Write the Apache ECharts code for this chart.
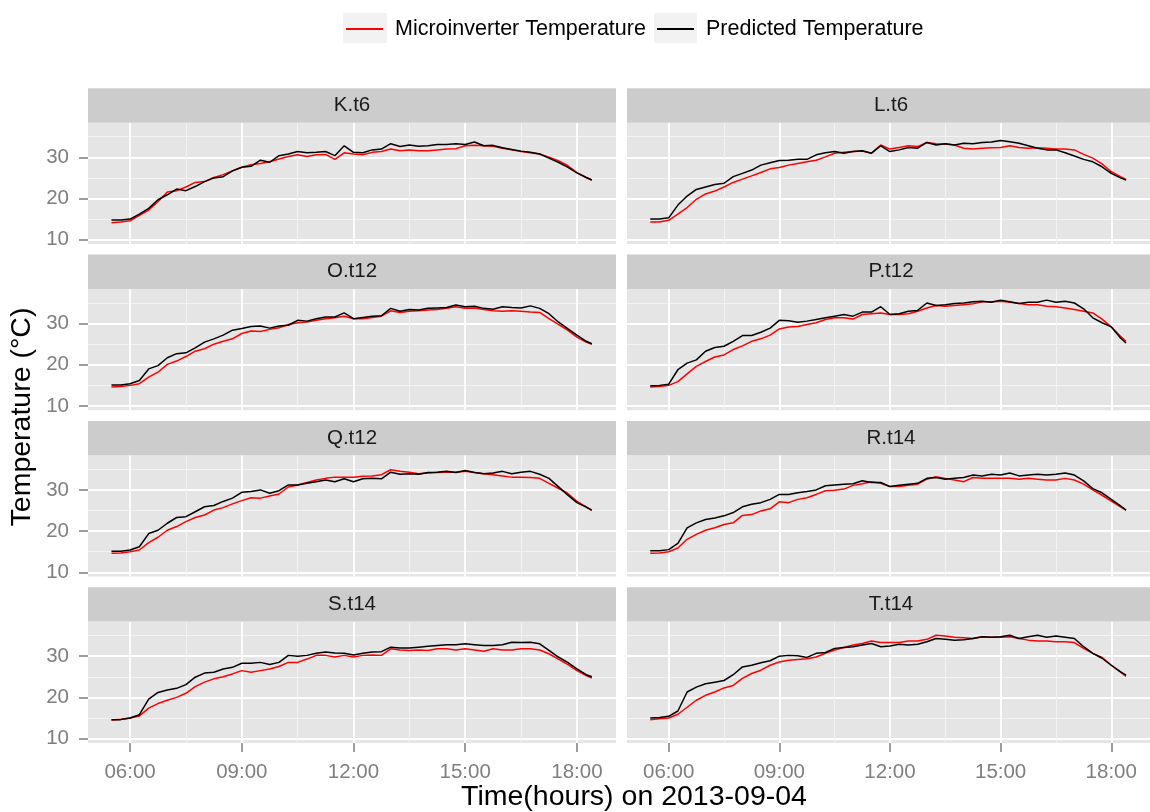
<!DOCTYPE html>
<html><head><meta charset="utf-8">
<script src="https://cdn.jsdelivr.net/npm/echarts@6/dist/echarts.min.js"></script>
<style>html,body{margin:0;padding:0;background:#fff}#chart{width:1150px;height:812px}</style>
</head><body><div id="chart"></div>
<script>
const times = ["05:30","05:45","06:00","06:15","06:30","06:45","07:00","07:15","07:30","07:45","08:00","08:15","08:30","08:45","09:00","09:15","09:30","09:45","10:00","10:15","10:30","10:45","11:00","11:15","11:30","11:45","12:00","12:15","12:30","12:45","13:00","13:15","13:30","13:45","14:00","14:15","14:30","14:45","15:00","15:15","15:30","15:45","16:00","16:15","16:30","16:45","17:00","17:15","17:30","17:45","18:00","18:15","18:24"];
const panelNames = ["K.t6","L.t6","O.t12","P.t12","Q.t12","R.t14","S.t14","T.t14"];
const xTickLabels = ["06:00","09:00","12:00","15:00","18:00"];
const yTickValues = [10,20,30];
const seriesNames = ["Microinverter Temperature","Predicted Temperature"];

const micro_K = [14.1,14.3,14.6,15.9,17.2,19.2,21.6,21.9,22.8,23.9,24.1,25.1,25.8,26.7,27.6,28.2,28.5,28.9,29.6,30.2,30.6,30.2,30.6,30.7,29.5,31.1,30.8,30.6,31.2,31.4,32.0,31.6,31.8,31.6,31.6,31.8,32.0,32.1,32.8,32.9,32.8,32.7,32.2,31.8,31.4,31.1,30.8,30.0,29.2,28.0,26.3,25.1,24.5];
const pred_K  = [14.8,14.8,15.0,16.2,17.6,19.7,20.9,22.3,21.9,22.9,24.1,25.0,25.3,26.7,27.6,27.8,29.3,28.8,30.4,30.8,31.4,31.1,31.2,31.4,30.4,32.8,31.2,31.1,31.8,32.0,33.3,32.6,33.0,32.7,32.8,33.1,33.1,33.3,33.1,33.7,32.8,32.9,32.3,31.9,31.5,31.2,30.8,29.8,28.8,27.6,26.2,25.1,24.5];
const micro_L = [14.3,14.3,14.7,16.2,17.8,19.8,21.1,21.8,22.8,23.9,24.7,25.5,26.3,27.2,27.5,28.1,28.5,28.9,29.3,30.1,31.0,31.2,31.4,31.5,31.0,33.0,32.0,32.4,32.8,32.6,33.6,33.3,33.2,33.0,32.2,32.0,32.2,32.3,32.4,32.8,32.4,32.2,32.3,32.2,32.0,32.0,31.8,30.7,29.8,28.4,26.5,25.3,24.6];
const pred_L  = [15.0,15.0,15.3,18.4,20.6,22.2,22.8,23.4,23.7,25.3,26.1,26.9,28.1,28.7,29.2,29.3,29.5,29.5,30.6,31.1,31.4,31.0,31.4,31.6,31.0,32.8,31.4,31.8,32.4,32.2,33.6,33.0,33.3,33.0,33.4,33.3,33.6,33.7,34.1,33.8,33.4,32.8,32.2,31.8,31.8,31.1,30.3,29.5,28.9,27.7,26.1,25.0,24.5];
const micro_O = [14.6,14.7,15.0,15.4,17.0,18.2,20.1,20.9,22.0,23.3,23.9,25.0,25.7,26.3,27.6,28.2,28.1,28.6,29.0,29.8,30.2,30.4,30.8,31.2,31.4,31.8,31.2,31.2,31.5,31.8,33.1,32.7,33.0,33.1,33.3,33.4,33.7,34.1,33.7,33.8,33.4,33.1,33.0,33.1,33.0,32.8,32.7,31.2,29.8,28.4,26.7,25.5,25.0];
const pred_O  = [15.1,15.1,15.4,16.2,19.0,19.8,21.7,22.7,22.9,24.1,25.5,26.3,27.2,28.4,28.8,29.3,29.4,28.9,29.4,29.6,30.8,30.6,31.2,31.6,31.6,32.6,31.2,31.5,31.8,31.9,33.7,33.0,33.4,33.3,33.7,33.8,33.9,34.5,34.1,34.2,33.7,33.5,34.1,33.9,33.8,34.3,33.7,32.4,30.4,28.8,27.2,25.7,25.1];
const micro_P = [14.6,14.7,15.0,15.9,17.8,19.6,20.8,21.9,22.4,23.7,24.6,25.7,26.3,27.2,28.7,29.2,29.3,29.8,30.2,31.0,31.4,31.4,31.1,32.2,32.4,32.6,32.2,32.2,32.4,33.0,33.8,34.4,34.2,34.4,34.6,34.8,35.3,35.3,35.4,35.2,34.9,34.6,34.6,34.2,34.1,33.8,33.4,33.0,32.6,31.1,29.2,26.9,25.7];
const pred_P  = [14.9,15.0,15.3,18.8,20.4,21.2,23.3,24.2,24.5,25.7,27.1,27.1,27.9,28.9,30.8,30.7,30.3,30.6,31.0,31.4,31.8,32.2,31.8,32.8,32.8,34.1,32.2,32.4,33.0,33.2,35.0,34.4,34.6,34.9,35.0,35.3,35.4,35.2,35.7,35.3,34.9,35.2,35.2,35.7,35.2,35.4,35.0,33.6,31.4,30.2,29.2,26.5,25.3];
const micro_Q = [14.6,14.7,15.0,15.4,17.2,18.5,20.2,21.1,22.3,23.3,23.9,25.1,25.7,26.6,27.4,28.1,28.0,28.5,29.0,30.7,31.2,31.8,32.4,32.8,33.1,33.1,33.1,33.3,33.4,33.7,34.9,34.5,34.3,33.9,34.1,34.2,34.3,34.3,34.5,34.2,33.9,33.7,33.4,33.1,33.1,33.0,32.8,31.6,30.4,29.2,27.2,25.9,25.0];
const pred_Q  = [15.1,15.1,15.4,16.2,19.4,20.2,21.9,23.3,23.5,24.7,25.9,26.2,27.2,28.0,29.4,29.6,30.0,29.2,29.8,31.2,31.2,31.6,32.0,32.4,32.0,32.7,32.0,32.7,32.8,32.7,34.3,33.8,33.9,33.8,34.2,34.3,34.5,34.2,34.7,34.2,33.9,34.1,34.5,33.9,34.3,34.5,33.8,32.8,30.8,28.8,26.9,25.8,25.1];
const micro_R = [14.6,14.7,15.0,15.9,18.0,19.2,20.2,20.8,21.6,22.0,23.8,24.0,24.9,25.4,27.1,26.9,27.7,28.1,28.9,29.8,29.9,30.2,31.1,31.5,32.0,31.6,30.8,30.8,31.1,31.4,32.6,33.2,32.8,32.4,32.0,33.0,32.8,32.8,32.8,32.8,32.6,32.8,32.6,32.4,32.4,32.8,32.4,31.4,30.0,28.7,27.3,25.9,25.1];
const pred_R  = [15.2,15.2,15.5,17.0,20.8,22.0,22.8,23.2,23.7,24.5,25.9,26.5,26.9,27.7,28.9,28.9,29.3,29.6,30.0,31.0,31.2,31.4,31.5,32.2,31.8,31.8,30.8,31.1,31.4,31.6,32.8,33.0,32.6,32.8,33.0,33.6,33.4,33.8,33.6,34.1,33.4,33.6,33.8,33.6,33.8,34.1,33.6,32.2,30.3,29.3,27.7,26.1,25.1];
const micro_S = [14.5,14.7,15.0,15.5,17.4,18.5,19.3,20.0,21.0,22.6,23.7,24.5,25.0,25.7,26.5,26.1,26.5,26.9,27.5,28.5,28.5,29.3,30.2,30.2,29.8,30.2,29.8,30.2,30.3,30.2,31.8,31.5,31.4,31.5,31.4,31.8,31.8,31.5,31.8,31.5,31.2,31.8,31.5,31.5,31.8,31.8,31.5,30.6,29.3,28.0,26.5,25.3,24.7];
const pred_S  = [14.6,14.6,15.0,15.8,19.6,21.2,21.8,22.2,23.1,24.9,25.9,26.1,26.9,27.3,28.3,28.3,28.5,28.0,28.5,30.2,30.0,30.2,30.7,31.0,30.8,30.7,30.3,30.7,31.0,31.1,32.2,32.0,32.0,32.2,32.4,32.6,32.8,32.8,33.0,32.8,32.6,32.6,32.8,33.4,33.3,33.4,33.0,31.4,29.8,28.5,26.9,25.5,25.0];
const micro_T = [14.6,14.8,15.0,15.9,17.6,19.3,20.5,21.3,22.3,22.9,24.6,25.8,26.6,27.8,28.6,29.0,29.2,29.4,29.8,30.7,31.5,32.1,32.7,33.1,33.7,33.3,33.3,33.3,33.7,33.7,34.1,35.1,34.9,34.6,34.5,34.3,34.7,34.6,34.6,34.7,34.3,33.9,33.7,33.7,33.5,33.5,33.3,31.9,30.7,29.7,27.8,26.2,25.1];
const pred_T  = [15.0,15.1,15.4,16.7,21.3,22.5,23.3,23.7,24.1,25.5,27.4,27.8,28.4,28.9,30.0,30.2,30.1,29.7,30.7,30.9,31.9,32.1,32.3,32.7,33.1,32.3,32.5,32.9,32.7,32.9,33.5,34.3,34.1,33.9,34.0,34.3,34.7,34.6,34.7,35.1,34.3,34.7,35.1,34.6,34.9,34.6,34.3,32.3,30.7,29.5,27.8,26.2,25.4];

const microSets = [micro_K, micro_L, micro_O, micro_P, micro_Q, micro_R, micro_S, micro_T];
const predSets  = [pred_K, pred_L, pred_O, pred_P, pred_Q, pred_R, pred_S, pred_T];

function toHours(s){ const p = s.split(':'); return Number(p[0]) + Number(p[1]) / 60; }
function fmtHours(v){ const h = Math.floor(v + 1e-6), m = Math.round((v - h) * 60); return String(h).padStart(2,'0') + ':' + String(m).padStart(2,'0'); }
const xHours = times.map(toHours);
const xTickHours = xTickLabels.map(toHours);

const FONT = "'Liberation Sans', Arial, sans-serif";
const AXIS_GREY = '#7F7F7F';
const colLeft = [88, 627];
const panelW = 528;
const stripTop0 = 88.3, rowPitch = 166.3, stripH = 34.4, panelH = 121.3;
const X_MIN = 4.87, X_MAX = 19.05, Y_MIN = 8.95, Y_MAX = 38.4;

const grids = [], xAxes = [], yAxes = [], series = [], graphics = [];

graphics.push({type:'rect', shape:{x:343, y:13, width:44, height:30}, style:{fill:'#F2F2F2'}, z:1});
graphics.push({type:'rect', shape:{x:654, y:13, width:43, height:30}, style:{fill:'#F2F2F2'}, z:1});

panelNames.forEach((name, i) => {
  const row = Math.floor(i / 2), col = i % 2;
  const stripTop = stripTop0 + row * rowPitch;
  const gTop = stripTop + stripH;
  grids.push({left: colLeft[col], top: gTop, width: panelW, height: panelH,
    show: true, backgroundColor: '#E5E5E5', borderWidth: 0, containLabel: false});
  xAxes.push({type:'value', gridIndex:i, min:X_MIN, max:X_MAX, splitNumber:5,
    axisLine:{show:false},
    axisTick:{show: row === 3, customValues: xTickHours, length: 9, lineStyle:{color:AXIS_GREY, width:1.5}},
    axisLabel:{show: row === 3, customValues: xTickHours, formatter: v => fmtHours(v), color:AXIS_GREY, fontSize:20.5, fontFamily:FONT, margin:19},
    splitLine:{show:true, lineStyle:{color:'#FFFFFF', width:1.8}},
    minorTick:{show:false, splitNumber:2},
    minorSplitLine:{show:true, lineStyle:{color:'#F2F2F2', width:1}}
  });
  yAxes.push({type:'value', gridIndex:i, min:Y_MIN, max:Y_MAX, splitNumber:3,
    axisLine:{show:false},
    axisTick:{show: col === 0, customValues: yTickValues, length: 9, lineStyle:{color:AXIS_GREY, width:1.5}},
    axisLabel:{show: col === 0, customValues: yTickValues, color:AXIS_GREY, fontSize:20.5, fontFamily:FONT, margin:19},
    splitLine:{show:true, lineStyle:{color:'#FFFFFF', width:1.8}},
    minorTick:{show:false, splitNumber:2},
    minorSplitLine:{show:true, lineStyle:{color:'#F2F2F2', width:1}}
  });
  series.push({name: seriesNames[0], type:'line', xAxisIndex:i, yAxisIndex:i,
    data: xHours.map((h, k) => [h, microSets[i][k]]), symbol:'none', showSymbol:false,
    lineStyle:{color:'#FF0000', width:1.5}, itemStyle:{color:'#FF0000'}, z:2, animation:false});
  series.push({name: seriesNames[1], type:'line', xAxisIndex:i, yAxisIndex:i,
    data: xHours.map((h, k) => [h, predSets[i][k]]), symbol:'none', showSymbol:false,
    lineStyle:{color:'#000000', width:1.5}, itemStyle:{color:'#000000'}, z:3, animation:false});
  graphics.push({type:'rect', shape:{x: colLeft[col], y: stripTop, width: panelW, height: stripH}, style:{fill:'#CCCCCC'}, z:1});
  graphics.push({type:'text', x: colLeft[col] + panelW / 2, y: stripTop + stripH / 2,
    style:{text: name, fill:'#1A1A1A', font: '20.5px ' + FONT, textAlign:'center', textVerticalAlign:'middle'}, z:2});
});

graphics.push({type:'text', x: 634, y: 797, style:{text:'Time(hours) on 2013-09-04', fill:'#000', font:'28.5px ' + FONT, textAlign:'center', textVerticalAlign:'middle'}, z:2});
graphics.push({type:'text', x: 22, y: 417, rotation: Math.PI / 2, style:{text:'Temperature (°C)', fill:'#000', font:'28.5px ' + FONT, textAlign:'center', textVerticalAlign:'middle'}, z:2});

const legendCommon = {orient:'horizontal', top:13, itemWidth:37, itemHeight:2, selectedMode:false, z:5,
  textStyle:{fontSize:21.5, color:'#000', fontFamily:FONT, padding:[0,0,0,7]}};
const option = {
  animation: false,
  backgroundColor: '#FFFFFF',
  grid: grids, xAxis: xAxes, yAxis: yAxes, series: series,
  legend: [
    Object.assign({}, legendCommon, {left: 341, data:[{name: seriesNames[0], icon:'rect', itemStyle:{color:'#FF0000'}}]}),
    Object.assign({}, legendCommon, {left: 652, data:[{name: seriesNames[1], icon:'rect', itemStyle:{color:'#000000'}}]})
  ],
  graphic: graphics
};
const chart = echarts.init(document.getElementById('chart'), null, {renderer:'canvas'});
chart.setOption(option);
</script></body></html>
